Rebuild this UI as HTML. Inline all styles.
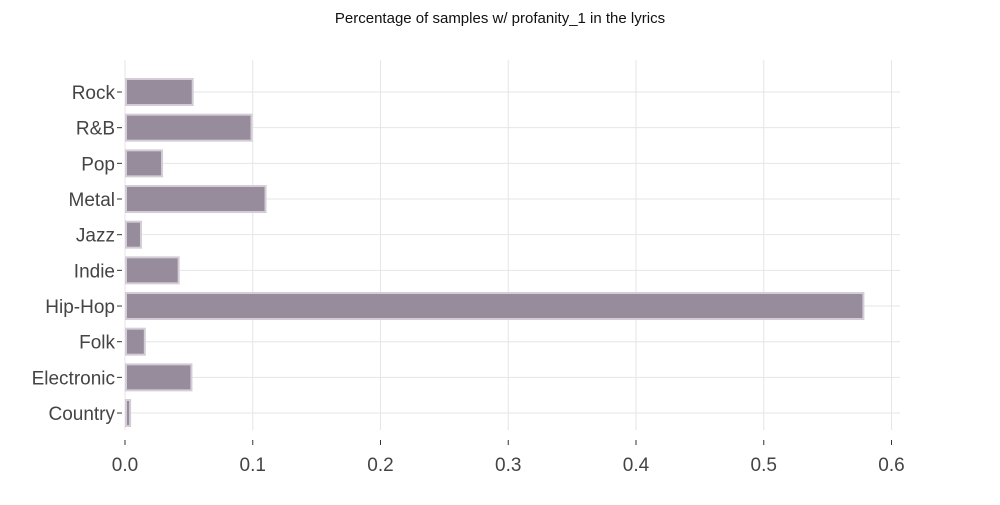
<!DOCTYPE html>
<html><head><meta charset="utf-8"><style>
body{margin:0;background:#fff;font-family:"Liberation Sans",sans-serif;}
svg text{font-family:"Liberation Sans",sans-serif;}
</style></head><body>
<svg id="c" width="1000" height="500">
<text x="500" y="23" text-anchor="middle" font-size="15" fill="#111">Percentage of samples w/ profanity_1 in the lyrics</text>
<g id="grid"></g><g id="bars"></g><g id="axes"></g>
</svg>
<script>
const categories=["Rock","R&B","Pop","Metal","Jazz","Indie","Hip-Hop","Folk","Electronic","Country"];
const values=[0.053,0.099,0.029,0.110,0.0125,0.042,0.578,0.0155,0.052,0.004];
const xTicks=[0,0.1,0.2,0.3,0.4,0.5,0.6];
const xTickLabels=["0.0","0.1","0.2","0.3","0.4","0.5","0.6"];
const NS="http://www.w3.org/2000/svg";
const x0=125,x1=891.5,yTop=92,step=35.67,bh=26;
const xs=v=>x0+v/0.6*(x1-x0);
const ys=i=>yTop+i*step;
function mk(tag,attrs,parent){const e=document.createElementNS(NS,tag);for(const k in attrs)e.setAttribute(k,attrs[k]);document.getElementById(parent).appendChild(e);return e;}
xTicks.forEach((t,i)=>{
  const g=mk("line",{x1:xs(t),x2:xs(t),y1:60,y2:430,stroke:"#e6e6e6","stroke-width":1},"grid");
  
  
  const tk=mk("line",{x1:xs(t),x2:xs(t),y1:440,y2:445,stroke:"#333","stroke-width":1},"axes");
  
  
  const l=mk("text",{x:xs(t),y:471,"text-anchor":"middle","font-size":19,fill:"#444"},"axes");
  l.textContent=xTickLabels[i];
  
  
});
categories.forEach((c,i)=>{
  const y=ys(i);
  const g=mk("line",{x1:x0,x2:900,y1:y,y2:y,stroke:"#e6e6e6","stroke-width":1},"grid");
  
  
  const b=mk("rect",{x:x0+1,y:y-bh/2,width:Math.max(xs(values[i])-x0-1,1),height:bh,fill:"#968c9b",stroke:"#d4cdd8","stroke-width":2},"bars");
  
  
  const tk=mk("line",{x1:117,x2:122,y1:y,y2:y,stroke:"#333","stroke-width":1},"axes");
  
  
  const l=mk("text",{x:115,y:y+7,"text-anchor":"end","font-size":19,fill:"#444"},"axes");
  l.textContent=c;
  
  
});
</script>
</body></html>
